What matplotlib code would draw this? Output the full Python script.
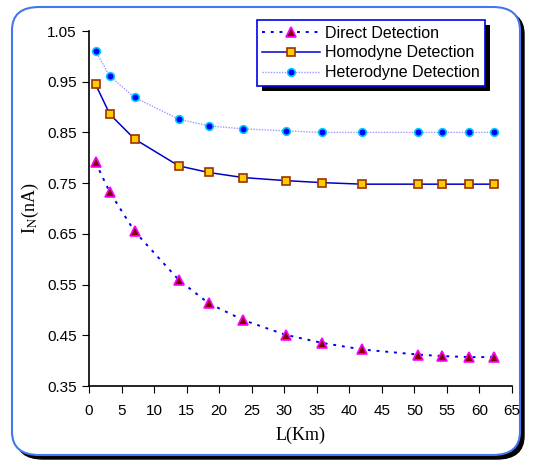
import numpy as np
import matplotlib.pyplot as plt
from matplotlib.patches import FancyBboxPatch, Rectangle

# distance (km) and noise current (nA)
length_km = [1, 3.2, 7, 13.8, 18.4, 23.7, 30.2, 35.8, 42, 50.5, 54.3, 58.4, 62.2]
direct = [0.791, 0.732, 0.655, 0.559, 0.513, 0.480, 0.451, 0.435, 0.422, 0.412, 0.409, 0.407, 0.407]
homodyne = [0.945, 0.886, 0.837, 0.784, 0.771, 0.761, 0.755, 0.751, 0.748, 0.748, 0.748, 0.748, 0.748]
heterodyne = [1.010, 0.961, 0.919, 0.876, 0.863, 0.857, 0.853, 0.850, 0.850, 0.850, 0.850, 0.850, 0.850]

plt.rcParams['font.family'] = ['Liberation Sans', 'DejaVu Sans']
plt.rcParams['mathtext.fontset'] = 'stix'

fig = plt.figure(figsize=(5.43, 4.63), dpi=100)
W, H = 543, 463

# rounded frame with shadow
shadow = FancyBboxPatch((16 / W, 4 / H), 508 / W, 448 / H,
                        boxstyle="round,pad=0,rounding_size=0.05",
                        transform=fig.transFigure, fc='black', ec='black', zorder=0)
frame = FancyBboxPatch((12 / W, 8 / H), 508 / W, 448 / H,
                       boxstyle="round,pad=0,rounding_size=0.05",
                       transform=fig.transFigure, fc='white', ec='#4477ee', lw=1.5, zorder=1)
fig.patches.extend([shadow, frame])

ax = fig.add_axes([89 / W, 1 - 386 / H, 423 / W, 355 / H])
ax.set_zorder(2)
ax.patch.set_alpha(0)

ax.plot(length_km, direct, linestyle=(0, (1.5, 3)), color='#0000ee', lw=1.4,
        marker='^', ms=6.5, mfc='#800000', mec='#ff00ff', mew=1.2, label='Direct Detection')
ax.plot(length_km, homodyne, linestyle='-', color='#0000cc', lw=1.1,
        marker='s', ms=6, mfc='#ffcc00', mec='#993300', mew=1.2, label='Homodyne Detection')
ax.plot(length_km, heterodyne, linestyle=(0, (1, 1)), color='#9999ff', lw=1.0,
        marker='o', ms=5.5, mfc='#0000ff', mec='#00ccff', mew=1.2, label='Heterodyne Detection')

ax.set_xlim(0, 65)
ax.set_ylim(0.35, 1.05)
ax.set_xticks(np.arange(0, 66, 5))
ax.set_yticks(np.arange(0.35, 1.06, 0.1))
ax.set_yticklabels(['%.2f' % v for v in np.arange(0.35, 1.06, 0.1)])
ax.tick_params(direction='out', length=5, labelsize=11, pad=4)
ax.tick_params(axis='x', pad=8)
for s in ['top', 'right']:
    ax.spines[s].set_visible(False)
for s in ['left', 'bottom']:
    ax.spines[s].set_linewidth(1.2)

ax.set_xlabel('L(Km)', family='Liberation Serif', fontsize=13, labelpad=6)
ax.set_ylabel(r'I$_{\mathrm{N}}$(nA)', family='Liberation Serif', fontsize=13, labelpad=4)

leg = ax.legend(loc='upper right', bbox_to_anchor=(485 / W, 1 - 20 / H),
                bbox_transform=fig.transFigure, fontsize=11.5, frameon=True,
                fancybox=False, borderpad=0.35, labelspacing=0.3, handlelength=3.6,
                handletextpad=0.3, borderaxespad=0)
leg.get_frame().set_edgecolor('#0000ee')
leg.get_frame().set_linewidth(1.2)
leg.get_frame().set_alpha(1)
leg.set_zorder(5)

fig.canvas.draw()
bb = leg.get_window_extent().transformed(fig.transFigure.inverted())
fig.patches.append(Rectangle((bb.x0 + 5 / W, bb.y0 - 5 / H), bb.width, bb.height,
                             transform=fig.transFigure, fc='black', ec='none', zorder=1.5))

fig.savefig('out.png', dpi=100)
